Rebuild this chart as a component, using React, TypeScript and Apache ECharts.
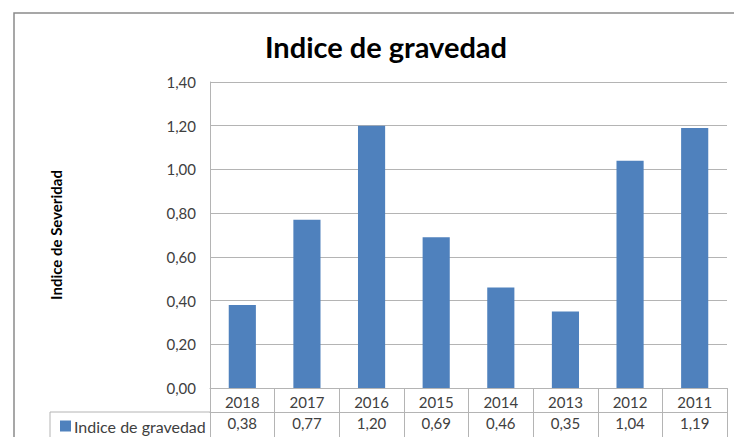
import React, { useEffect, useRef } from "react";
import * as echarts from "echarts";

const years = ["2018", "2017", "2016", "2015", "2014", "2013", "2012", "2011"];
const values = [0.38, 0.77, 1.2, 0.69, 0.46, 0.35, 1.04, 1.19];
const seriesName = "Indice de gravedad";
const titleText = "Indice de gravedad";
const yAxisTitle = "Indice de Severidad";

const fmt = (v: number) => v.toFixed(2).replace(".", ",");

export default function App() {
  const ref = useRef<HTMLDivElement>(null);
  useEffect(() => {
    if (!ref.current) return;
    const chart = echarts.init(ref.current, null, { renderer: "svg" });
    const font = "Lato, 'Noto Sans', sans-serif";
    const gridColor = "#b4b4b4";
    chart.setOption({
      animation: false,
      backgroundColor: "#ffffff",
      textStyle: { fontFamily: font },
      title: {
        text: titleText,
        left: 381,
        top: 27,
        textAlign: "center",
        textStyle: { fontFamily: font, fontSize: 29, fontWeight: "bold", color: "#000" },
      },
      legend: {
        left: 55,
        top: 413,
        itemWidth: 11,
        itemHeight: 11,
        itemGap: 4,
        icon: "rect",
        textStyle: { fontFamily: font, fontSize: 16, color: "#404040", padding: [0, 0, 0, -2] },
        data: [seriesName],
      },
      grid: { left: 210, right: 7, top: 82, bottom: 49, containLabel: false },
      xAxis: [
        {
          type: "category",
          data: years,
          position: "bottom",
          boundaryGap: true,
          axisLine: { show: true, lineStyle: { color: gridColor } },
          axisTick: { show: true, length: 49, interval: 0, lineStyle: { color: gridColor } },
          axisLabel: { margin: 6, fontSize: 15, color: "#404040", fontFamily: font, interval: 0 },
        },
        {
          type: "category",
          data: values.map(fmt),
          position: "bottom",
          offset: 24,
          boundaryGap: true,
          axisLine: { show: true, lineStyle: { color: gridColor } },
          axisTick: { show: false },
          axisLabel: { margin: 3, fontSize: 15, color: "#404040", fontFamily: font, interval: 0 },
        },
      ],
      yAxis: {
        type: "value",
        min: 0,
        max: 1.4,
        interval: 0.2,
        name: yAxisTitle,
        nameLocation: "middle",
        nameGap: 147,
        nameTextStyle: { fontFamily: font, fontSize: 15, fontWeight: "bold", color: "#000" },
        axisLine: { show: true, lineStyle: { color: gridColor } },
        axisTick: { show: false },
        splitLine: { show: true, lineStyle: { color: gridColor } },
        axisLabel: {
          margin: 14,
          fontSize: 15,
          color: "#404040",
          fontFamily: font,
          formatter: (v: number) => fmt(v),
        },
      },
      series: [
        {
          name: seriesName,
          type: "bar",
          data: values,
          xAxisIndex: 0,
          barWidth: "42%",
          itemStyle: { color: "#4f81bd" },
        },
      ],
      graphic: [
        {
          type: "rect",
          shape: { x: 14, y: 13, width: 760, height: 460 },
          style: { fill: "none", stroke: "#8a8a8a", lineWidth: 1.5 },
          z: 0,
          silent: true,
        },
        {
          type: "line",
          shape: { x1: 50, y1: 412, x2: 210, y2: 412 },
          style: { stroke: gridColor, lineWidth: 1 },
          silent: true,
        },
        {
          type: "line",
          shape: { x1: 50, y1: 412, x2: 50, y2: 440 },
          style: { stroke: gridColor, lineWidth: 1 },
          silent: true,
        },
      ],
    });
    return () => chart.dispose();
  }, []);
  return (
    <div
      ref={ref}
      style={{ position: "fixed", left: 0, top: 0, width: 734, height: 437 }}
    />
  );
}
